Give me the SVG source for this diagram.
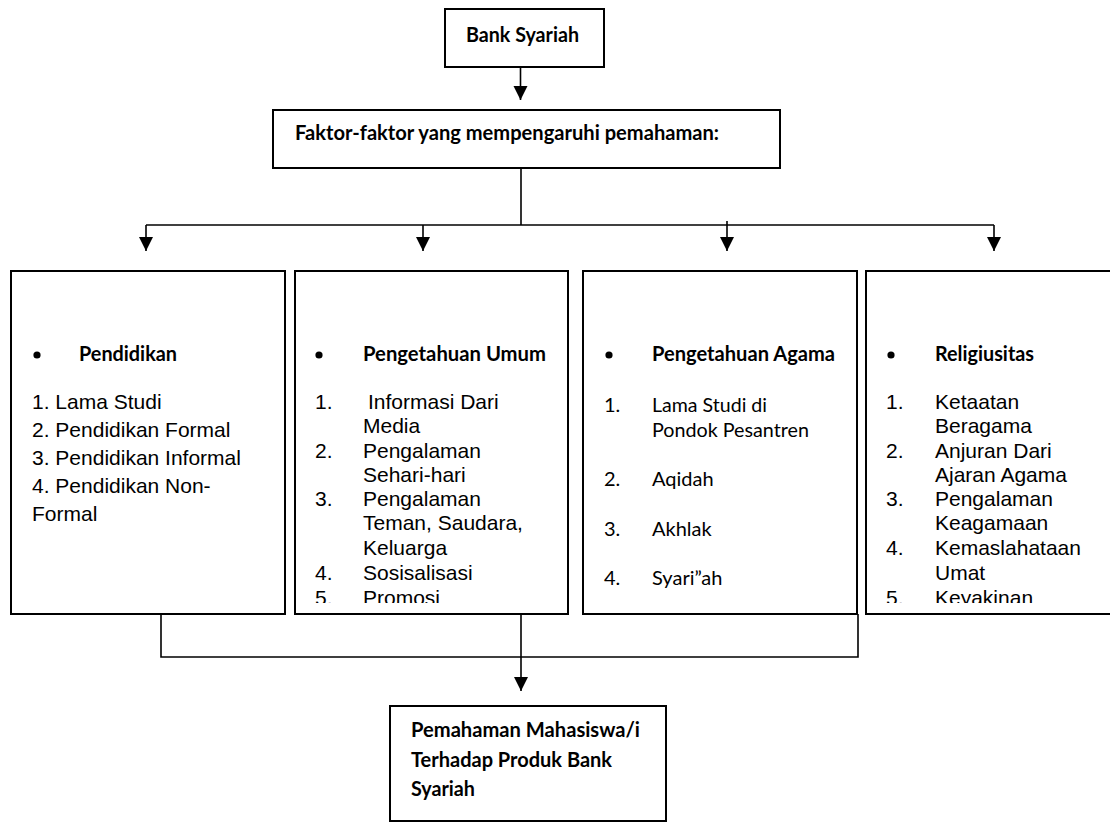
<svg xmlns="http://www.w3.org/2000/svg" width="1110" height="823" viewBox="0 0 1110 823">
<defs>
<style>
.box{fill:#fff;stroke:#000;stroke-width:2}
.con{fill:none;stroke:#000;stroke-width:1.6}
.cb{font-family:Lato,"Liberation Sans",sans-serif;font-weight:bold;font-size:21px;fill:#000}
.cr{font-family:Lato,"Liberation Sans",sans-serif;font-size:20px;fill:#000}
.ar{font-family:"Liberation Sans",Arial,sans-serif;font-size:21px;fill:#000}
</style>
<marker id="ah" markerUnits="userSpaceOnUse" markerWidth="14" markerHeight="15" refX="14" refY="7" orient="auto">
<path d="M0,0 L14,7 L0,14 Z" fill="#000"/>
</marker>
<clipPath id="clip2"><rect x="295" y="271" width="273" height="332"/></clipPath>
<clipPath id="clip4"><rect x="866" y="271" width="244" height="332"/></clipPath>
</defs>
<rect width="1110" height="823" fill="#fff"/>

<g id="connectors">
<line class="con" x1="520.5" y1="67" x2="520.5" y2="100" marker-end="url(#ah)"/>
<line class="con" x1="521" y1="168" x2="521" y2="225"/>
<line class="con" x1="146" y1="225" x2="994" y2="225"/>
<line class="con" x1="146" y1="225" x2="146" y2="251" marker-end="url(#ah)"/>
<line class="con" x1="423" y1="225" x2="423" y2="251" marker-end="url(#ah)"/>
<line class="con" x1="727" y1="221" x2="727" y2="251" marker-end="url(#ah)"/>
<line class="con" x1="994" y1="225" x2="994" y2="251" marker-end="url(#ah)"/>
<polyline class="con" points="161,614 161,657 858,657 858,614"/>
<line class="con" x1="521" y1="614" x2="521" y2="691" marker-end="url(#ah)"/>
</g>

<g id="bank-syariah">
<rect class="box" x="445" y="9" width="159" height="58"/>
<text class="cb" x="466" y="42" textLength="113" lengthAdjust="spacingAndGlyphs">Bank Syariah</text>
</g>

<g id="faktor">
<rect class="box" x="273" y="110" width="507" height="58"/>
<text class="cb" x="295" y="140" textLength="424" lengthAdjust="spacingAndGlyphs">Faktor-faktor yang mempengaruhi pemahaman:</text>
</g>

<g id="pendidikan">
<rect class="box" x="11" y="271" width="274" height="343"/>
<circle cx="37" cy="355" r="3.6"/>
<text class="cb" x="79" y="361" textLength="98" lengthAdjust="spacingAndGlyphs">Pendidikan</text>
<text class="ar" x="32" y="409">1. Lama Studi</text>
<text class="ar" x="32" y="437">2. Pendidikan Formal</text>
<text class="ar" x="32" y="465">3. Pendidikan Informal</text>
<text class="ar" x="32" y="493">4. Pendidikan Non-</text>
<text class="ar" x="32" y="521">Formal</text>
</g>

<g id="pengetahuan-umum">
<rect class="box" x="295" y="271" width="273" height="343"/>
<circle cx="319" cy="355" r="3.6"/>
<text class="cb" x="363" y="361" textLength="183" lengthAdjust="spacingAndGlyphs">Pengetahuan Umum</text>
<g clip-path="url(#clip2)">
<text class="ar" x="315" y="409">1.</text><text class="ar" x="368" y="409">Informasi Dari</text>
<text class="ar" x="363" y="433">Media</text>
<text class="ar" x="315" y="458">2.</text><text class="ar" x="363" y="458">Pengalaman</text>
<text class="ar" x="363" y="482">Sehari-hari</text>
<text class="ar" x="315" y="506">3.</text><text class="ar" x="363" y="506">Pengalaman</text>
<text class="ar" x="363" y="530">Teman, Saudara,</text>
<text class="ar" x="363" y="555">Keluarga</text>
<text class="ar" x="315" y="580">4.</text><text class="ar" x="363" y="580">Sosisalisasi</text>
<text class="ar" x="315" y="605">5.</text><text class="ar" x="363" y="605">Promosi</text>
</g>
</g>

<g id="pengetahuan-agama">
<rect class="box" x="583" y="271" width="274" height="343"/>
<circle cx="609" cy="355" r="3.6"/>
<text class="cb" x="652" y="361" textLength="183" lengthAdjust="spacingAndGlyphs">Pengetahuan Agama</text>
<text class="cr" x="604" y="412">1.</text><text class="cr" x="652" y="412" textLength="115" lengthAdjust="spacingAndGlyphs">Lama Studi di</text>
<text class="cr" x="652" y="437" textLength="157" lengthAdjust="spacingAndGlyphs">Pondok Pesantren</text>
<text class="cr" x="604" y="486">2.</text><text class="cr" x="652" y="486">Aqidah</text>
<text class="cr" x="604" y="536">3.</text><text class="cr" x="652" y="536">Akhlak</text>
<text class="cr" x="604" y="585">4.</text><text class="cr" x="652" y="585">Syari”ah</text>
</g>

<g id="religiusitas">
<rect class="box" x="866" y="271" width="300" height="343"/>
<circle cx="891" cy="355" r="3.6"/>
<text class="cb" x="935" y="361" textLength="99" lengthAdjust="spacingAndGlyphs">Religiusitas</text>
<g clip-path="url(#clip4)">
<text class="ar" x="886" y="409">1.</text><text class="ar" x="935" y="409">Ketaatan</text>
<text class="ar" x="935" y="433">Beragama</text>
<text class="ar" x="886" y="458">2.</text><text class="ar" x="935" y="458">Anjuran Dari</text>
<text class="ar" x="935" y="482">Ajaran Agama</text>
<text class="ar" x="886" y="506">3.</text><text class="ar" x="935" y="506">Pengalaman</text>
<text class="ar" x="935" y="530">Keagamaan</text>
<text class="ar" x="886" y="555">4.</text><text class="ar" x="935" y="555">Kemaslahataan</text>
<text class="ar" x="935" y="580">Umat</text>
<text class="ar" x="886" y="605">5.</text><text class="ar" x="935" y="605">Keyakinan</text>
</g>
</g>

<g id="pemahaman">
<rect class="box" x="390" y="706" width="276" height="115"/>
<text class="cb" x="411" y="737" textLength="229" lengthAdjust="spacingAndGlyphs">Pemahaman Mahasiswa/i</text>
<text class="cb" x="411" y="767" textLength="201" lengthAdjust="spacingAndGlyphs">Terhadap Produk Bank</text>
<text class="cb" x="411" y="796" textLength="64" lengthAdjust="spacingAndGlyphs">Syariah</text>
</g>
</svg>
